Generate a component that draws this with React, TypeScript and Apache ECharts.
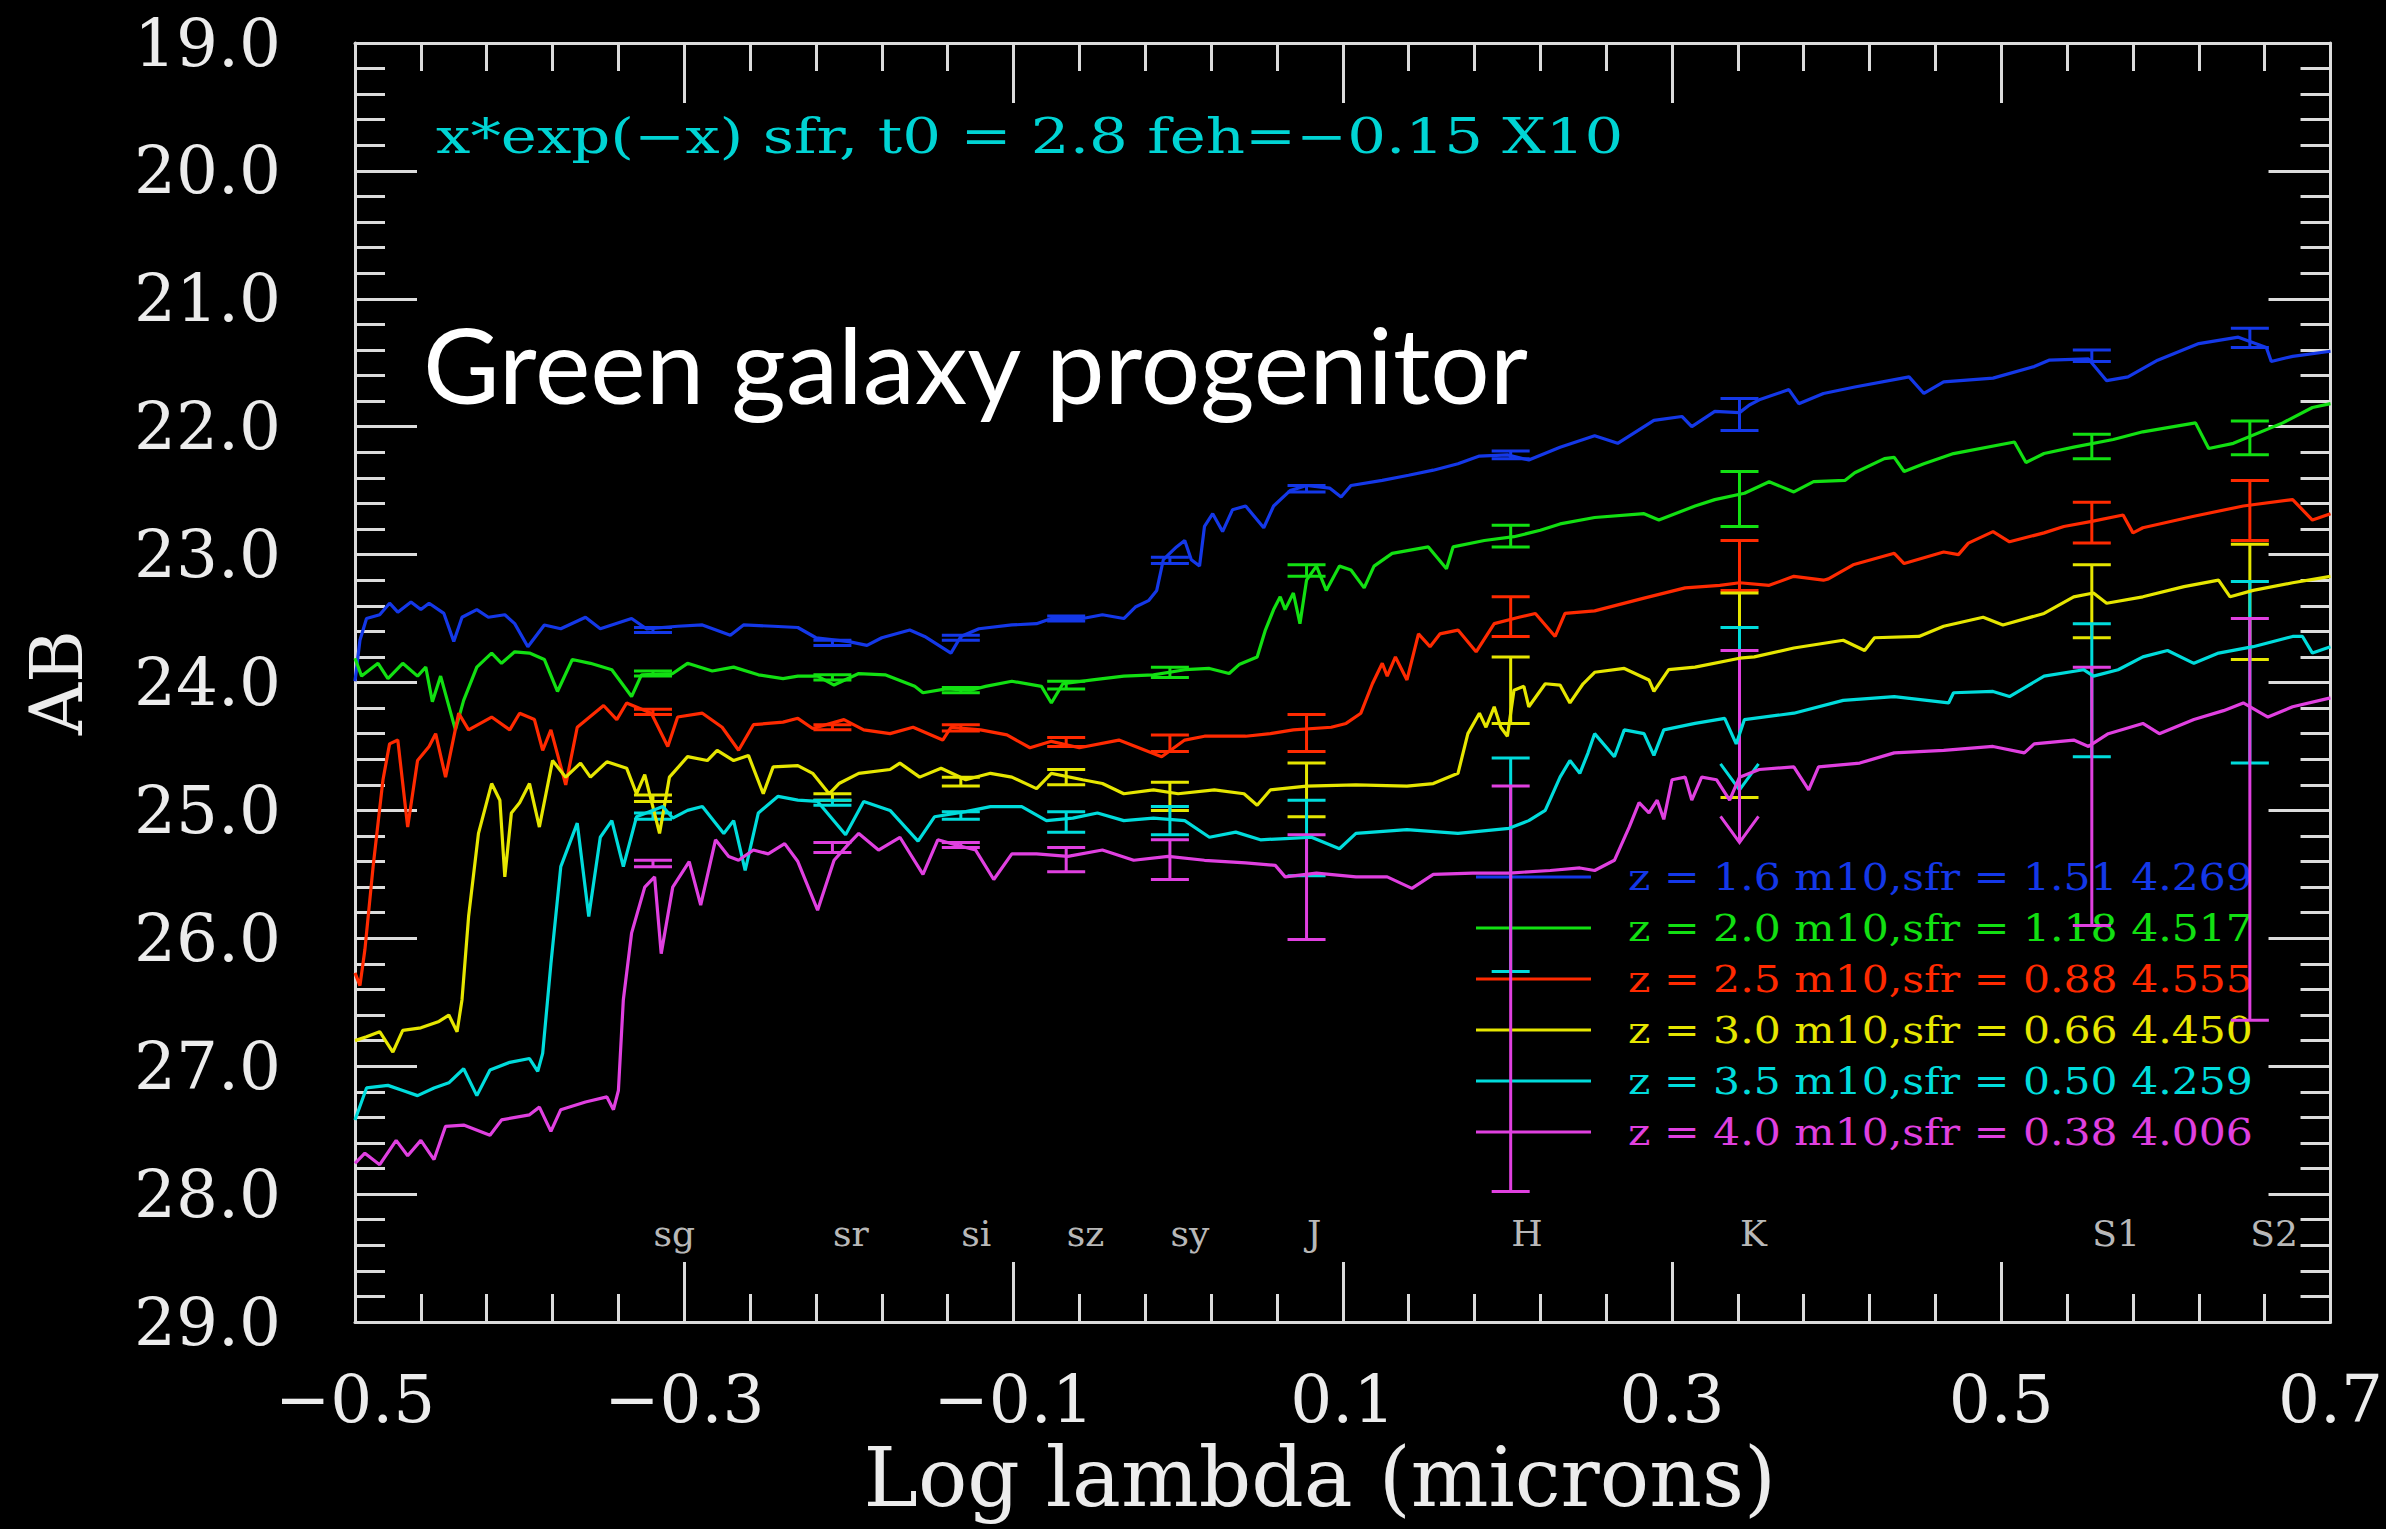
import React, { useEffect, useRef } from 'react';
import * as echarts from 'echarts';

const WIDTH = 2386;
const HEIGHT = 1529;

// Axis ranges (log10 wavelength in microns, AB magnitude)
const X_MIN = -0.5;
const X_MAX = 0.7;
const X_STEP = 0.2;
const Y_MIN = 19;
const Y_MAX = 29;
const Y_STEP = 1;

// Photometric bands and their log10 central wavelengths
const BANDS = ['sg', 'sr', 'si', 'sz', 'sy', 'J', 'H', 'K', 'S1', 'S2'];
const BAND_LOG_LAMBDA = [-0.319, -0.21, -0.132, -0.068, -0.005, 0.078, 0.202, 0.341, 0.555, 0.651];
const BAND_LABEL_AB = 28.31;

// Model parameters for each redshift
const REDSHIFT = ['1.6', '2.0', '2.5', '3.0', '3.5', '4.0'];
const M10 = ['1.51', '1.18', '0.88', '0.66', '0.50', '0.38'];
const SFR = ['4.269', '4.517', '4.555', '4.450', '4.259', '4.006'];
const COLORS = ['#1438e8', '#12e012', '#ff2a00', '#e6e600', '#00dcdc', '#e040e0'];

const TITLE = 'x*exp(\u2212x) sfr, t0 = 2.8 feh=\u22120.15 X10';
const HEADLINE = 'Green galaxy progenitor';

// Spectra: [log lambda, AB mag]
const SPEC_Z16: [number, number][] = [
  [-0.5, 23.99], [-0.497, 23.67], [-0.493, 23.5], [-0.485, 23.47], [-0.479, 23.38], [-0.474, 23.45],
  [-0.466, 23.37], [-0.46, 23.43], [-0.455, 23.38], [-0.446, 23.46], [-0.44, 23.68], [-0.435, 23.49],
  [-0.426, 23.43], [-0.419, 23.49], [-0.409, 23.47], [-0.403, 23.54], [-0.395, 23.72], [-0.385, 23.55],
  [-0.375, 23.58], [-0.36, 23.49], [-0.351, 23.58], [-0.332, 23.5], [-0.323, 23.58], [-0.304, 23.56],
  [-0.289, 23.55], [-0.272, 23.63], [-0.264, 23.55], [-0.246, 23.56], [-0.231, 23.57], [-0.22, 23.65],
  [-0.2, 23.68], [-0.189, 23.71], [-0.18, 23.65], [-0.163, 23.59], [-0.154, 23.64], [-0.138, 23.77],
  [-0.132, 23.64], [-0.121, 23.58], [-0.101, 23.55], [-0.086, 23.54], [-0.077, 23.5], [-0.058, 23.5],
  [-0.046, 23.47], [-0.033, 23.5], [-0.026, 23.41], [-0.018, 23.36], [-0.013, 23.28], [-0.009, 23.04],
  [-0.001, 22.94], [0.004, 22.89], [0.008, 23.04], [0.013, 23.09], [0.016, 22.78], [0.021, 22.68],
  [0.027, 22.82], [0.033, 22.65], [0.041, 22.62], [0.052, 22.79], [0.058, 22.62], [0.068, 22.5],
  [0.078, 22.46], [0.092, 22.48], [0.099, 22.55], [0.105, 22.46], [0.124, 22.42], [0.14, 22.38],
  [0.155, 22.34], [0.17, 22.29], [0.183, 22.23], [0.2, 22.22], [0.213, 22.26], [0.232, 22.16],
  [0.253, 22.07], [0.267, 22.13], [0.289, 21.95], [0.306, 21.92], [0.312, 22.0], [0.326, 21.88],
  [0.341, 21.89], [0.347, 21.83], [0.353, 21.79], [0.371, 21.71], [0.377, 21.82], [0.392, 21.74],
  [0.411, 21.69], [0.444, 21.61], [0.453, 21.74], [0.465, 21.65], [0.495, 21.62], [0.52, 21.53],
  [0.529, 21.48], [0.553, 21.47], [0.564, 21.64], [0.577, 21.61], [0.595, 21.48], [0.62, 21.35],
  [0.644, 21.3], [0.661, 21.38], [0.664, 21.49], [0.677, 21.45], [0.7, 21.41],
];

const SPEC_Z20: [number, number][] = [
  [-0.5, 23.81], [-0.496, 23.95], [-0.486, 23.85], [-0.48, 23.97], [-0.471, 23.85], [-0.462, 23.95],
  [-0.457, 23.88], [-0.453, 24.15], [-0.448, 23.95], [-0.439, 24.37], [-0.434, 24.14], [-0.426, 23.88],
  [-0.417, 23.77], [-0.411, 23.85], [-0.403, 23.76], [-0.394, 23.77], [-0.385, 23.82], [-0.377, 24.07],
  [-0.368, 23.82], [-0.357, 23.85], [-0.344, 23.9], [-0.332, 24.11], [-0.326, 23.94], [-0.307, 23.93],
  [-0.298, 23.85], [-0.283, 23.91], [-0.27, 23.88], [-0.255, 23.94], [-0.24, 23.97], [-0.231, 23.95],
  [-0.219, 23.95], [-0.209, 24.02], [-0.194, 23.93], [-0.178, 23.94], [-0.16, 24.03], [-0.155, 24.08],
  [-0.141, 24.05], [-0.126, 24.06], [-0.117, 24.03], [-0.101, 23.99], [-0.083, 24.03], [-0.077, 24.16],
  [-0.07, 24.01], [-0.052, 23.98], [-0.033, 23.95], [-0.015, 23.94], [0.004, 23.9], [0.019, 23.89],
  [0.031, 23.93], [0.037, 23.86], [0.048, 23.8], [0.053, 23.59], [0.058, 23.43], [0.062, 23.33],
  [0.065, 23.43], [0.07, 23.3], [0.074, 23.54], [0.078, 23.2], [0.084, 23.09], [0.09, 23.28],
  [0.098, 23.09], [0.105, 23.12], [0.113, 23.26], [0.119, 23.09], [0.13, 22.99], [0.152, 22.94],
  [0.163, 23.11], [0.167, 22.94], [0.186, 22.89], [0.204, 22.86], [0.22, 22.81], [0.232, 22.76],
  [0.253, 22.71], [0.283, 22.68], [0.292, 22.73], [0.314, 22.62], [0.326, 22.57], [0.344, 22.52],
  [0.359, 22.43], [0.374, 22.51], [0.386, 22.43], [0.405, 22.42], [0.411, 22.36], [0.429, 22.25],
  [0.435, 22.24], [0.441, 22.35], [0.453, 22.29], [0.471, 22.21], [0.508, 22.12], [0.515, 22.28],
  [0.526, 22.21], [0.544, 22.16], [0.568, 22.1], [0.586, 22.04], [0.618, 21.97], [0.626, 22.17],
  [0.641, 22.13], [0.671, 21.97], [0.689, 21.85], [0.7, 21.82],
];

const SPEC_Z25: [number, number][] = [
  [-0.5, 26.27], [-0.497, 26.37], [-0.494, 26.09], [-0.489, 25.44], [-0.483, 24.76], [-0.479, 24.48],
  [-0.474, 24.45], [-0.468, 25.13], [-0.462, 24.61], [-0.455, 24.5], [-0.451, 24.4], [-0.445, 24.74],
  [-0.437, 24.24], [-0.431, 24.37], [-0.417, 24.27], [-0.406, 24.37], [-0.4, 24.24], [-0.391, 24.29],
  [-0.386, 24.53], [-0.381, 24.37], [-0.372, 24.8], [-0.365, 24.35], [-0.349, 24.18], [-0.341, 24.29],
  [-0.335, 24.16], [-0.32, 24.24], [-0.31, 24.5], [-0.304, 24.27], [-0.289, 24.24], [-0.277, 24.35],
  [-0.267, 24.53], [-0.258, 24.33], [-0.24, 24.31], [-0.231, 24.28], [-0.222, 24.36], [-0.203, 24.29],
  [-0.191, 24.37], [-0.175, 24.4], [-0.161, 24.35], [-0.143, 24.45], [-0.138, 24.35], [-0.12, 24.37],
  [-0.104, 24.41], [-0.09, 24.51], [-0.077, 24.46], [-0.06, 24.51], [-0.036, 24.45], [-0.01, 24.58],
  [0.004, 24.45], [0.016, 24.42], [0.041, 24.42], [0.056, 24.4], [0.07, 24.37], [0.093, 24.35],
  [0.102, 24.32], [0.111, 24.24], [0.118, 24.01], [0.124, 23.85], [0.127, 23.95], [0.132, 23.8],
  [0.139, 23.98], [0.146, 23.62], [0.153, 23.72], [0.159, 23.62], [0.17, 23.59], [0.181, 23.76],
  [0.192, 23.54], [0.207, 23.49], [0.217, 23.46], [0.229, 23.64], [0.235, 23.46], [0.253, 23.44],
  [0.283, 23.34], [0.308, 23.26], [0.329, 23.24], [0.341, 23.22], [0.359, 23.24], [0.374, 23.17],
  [0.392, 23.2], [0.395, 23.19], [0.41, 23.08], [0.435, 22.99], [0.441, 23.07], [0.465, 22.98],
  [0.474, 23.0], [0.48, 22.91], [0.495, 22.82], [0.505, 22.9], [0.526, 22.83], [0.538, 22.78],
  [0.555, 22.74], [0.574, 22.69], [0.58, 22.83], [0.586, 22.79], [0.617, 22.7], [0.647, 22.62],
  [0.677, 22.57], [0.689, 22.73], [0.7, 22.68],
];

const SPEC_Z30: [number, number][] = [
  [-0.5, 26.8], [-0.493, 26.77], [-0.485, 26.73], [-0.477, 26.89], [-0.471, 26.72], [-0.46, 26.7],
  [-0.449, 26.65], [-0.443, 26.6], [-0.438, 26.73], [-0.435, 26.48], [-0.431, 25.83], [-0.425, 25.18],
  [-0.417, 24.79], [-0.412, 24.92], [-0.409, 25.52], [-0.405, 25.02], [-0.4, 24.94], [-0.394, 24.79],
  [-0.388, 25.13], [-0.38, 24.61], [-0.372, 24.74], [-0.363, 24.63], [-0.357, 24.74], [-0.347, 24.62],
  [-0.335, 24.67], [-0.329, 24.87], [-0.324, 24.72], [-0.315, 25.18], [-0.309, 24.74], [-0.298, 24.58],
  [-0.286, 24.61], [-0.28, 24.53], [-0.27, 24.61], [-0.261, 24.57], [-0.252, 24.87], [-0.246, 24.66],
  [-0.231, 24.65], [-0.222, 24.71], [-0.212, 24.87], [-0.206, 24.79], [-0.194, 24.71], [-0.175, 24.68],
  [-0.169, 24.63], [-0.157, 24.74], [-0.144, 24.67], [-0.129, 24.76], [-0.114, 24.71], [-0.101, 24.74],
  [-0.086, 24.83], [-0.077, 24.71], [-0.058, 24.76], [-0.046, 24.79], [-0.033, 24.87], [-0.015, 24.84],
  [0.0, 24.87], [0.022, 24.84], [0.04, 24.87], [0.048, 24.96], [0.056, 24.84], [0.078, 24.81],
  [0.108, 24.8], [0.139, 24.81], [0.155, 24.79], [0.17, 24.71], [0.176, 24.4], [0.183, 24.24],
  [0.187, 24.35], [0.192, 24.19], [0.196, 24.35], [0.2, 24.42], [0.204, 24.06], [0.21, 24.03],
  [0.213, 24.19], [0.223, 24.01], [0.232, 24.02], [0.238, 24.16], [0.246, 24.01], [0.253, 23.92],
  [0.271, 23.89], [0.286, 23.98], [0.289, 24.07], [0.298, 23.9], [0.314, 23.88], [0.341, 23.81],
  [0.35, 23.8], [0.374, 23.73], [0.404, 23.67], [0.417, 23.75], [0.423, 23.65], [0.45, 23.64],
  [0.465, 23.56], [0.489, 23.49], [0.501, 23.55], [0.526, 23.46], [0.544, 23.33], [0.556, 23.3],
  [0.564, 23.38], [0.586, 23.33], [0.611, 23.25], [0.632, 23.2], [0.639, 23.33], [0.653, 23.28],
  [0.677, 23.22], [0.7, 23.17],
];

const SPEC_Z35: [number, number][] = [
  [-0.5, 27.42], [-0.493, 27.17], [-0.48, 27.15], [-0.471, 27.19], [-0.462, 27.23], [-0.452, 27.17],
  [-0.443, 27.13], [-0.434, 27.02], [-0.426, 27.23], [-0.418, 27.03], [-0.406, 26.97], [-0.394, 26.94],
  [-0.389, 27.04], [-0.386, 26.9], [-0.383, 26.48], [-0.381, 26.2], [-0.375, 25.44], [-0.365, 25.1],
  [-0.358, 25.83], [-0.351, 25.21], [-0.344, 25.08], [-0.337, 25.44], [-0.329, 25.05], [-0.313, 24.97],
  [-0.307, 25.06], [-0.298, 25.0], [-0.289, 24.97], [-0.276, 25.18], [-0.27, 25.08], [-0.263, 25.47],
  [-0.255, 25.02], [-0.243, 24.89], [-0.231, 24.92], [-0.219, 24.93], [-0.202, 25.19], [-0.191, 24.93],
  [-0.175, 25.0], [-0.158, 25.24], [-0.148, 25.05], [-0.129, 25.01], [-0.114, 24.97], [-0.095, 24.97],
  [-0.08, 25.08], [-0.064, 25.06], [-0.049, 25.02], [-0.033, 25.08], [-0.015, 25.06], [0.004, 25.08],
  [0.019, 25.21], [0.035, 25.17], [0.05, 25.23], [0.065, 25.22], [0.081, 25.21], [0.098, 25.3],
  [0.108, 25.18], [0.139, 25.15], [0.17, 25.18], [0.201, 25.14], [0.213, 25.08], [0.223, 25.0],
  [0.232, 24.74], [0.238, 24.61], [0.244, 24.71], [0.249, 24.55], [0.253, 24.4], [0.265, 24.58],
  [0.271, 24.37], [0.283, 24.4], [0.289, 24.57], [0.295, 24.37], [0.314, 24.32], [0.332, 24.28],
  [0.339, 24.48], [0.344, 24.29], [0.374, 24.24], [0.404, 24.14], [0.435, 24.11], [0.468, 24.16],
  [0.471, 24.08], [0.495, 24.07], [0.505, 24.11], [0.526, 23.95], [0.55, 23.9], [0.556, 23.95],
  [0.571, 23.9], [0.586, 23.8], [0.601, 23.75], [0.617, 23.85], [0.632, 23.77], [0.653, 23.72],
  [0.677, 23.64], [0.683, 23.64], [0.689, 23.77], [0.7, 23.72],
];

const SPEC_Z40: [number, number][] = [
  [-0.5, 27.76], [-0.494, 27.68], [-0.485, 27.77], [-0.475, 27.58], [-0.468, 27.7], [-0.46, 27.58],
  [-0.452, 27.73], [-0.445, 27.47], [-0.434, 27.46], [-0.418, 27.54], [-0.411, 27.42], [-0.394, 27.38],
  [-0.388, 27.32], [-0.381, 27.51], [-0.375, 27.34], [-0.36, 27.28], [-0.347, 27.24], [-0.343, 27.34],
  [-0.34, 27.19], [-0.337, 26.48], [-0.332, 25.96], [-0.324, 25.6], [-0.318, 25.52], [-0.314, 26.12],
  [-0.307, 25.6], [-0.297, 25.4], [-0.29, 25.74], [-0.281, 25.23], [-0.273, 25.36], [-0.267, 25.39],
  [-0.258, 25.31], [-0.249, 25.34], [-0.239, 25.26], [-0.231, 25.4], [-0.219, 25.78], [-0.209, 25.39],
  [-0.2, 25.26], [-0.194, 25.18], [-0.182, 25.31], [-0.169, 25.21], [-0.155, 25.5], [-0.146, 25.23],
  [-0.132, 25.28], [-0.123, 25.31], [-0.112, 25.54], [-0.101, 25.34], [-0.086, 25.34], [-0.067, 25.36],
  [-0.046, 25.31], [-0.027, 25.39], [-0.006, 25.36], [0.016, 25.39], [0.041, 25.41], [0.059, 25.43],
  [0.065, 25.52], [0.084, 25.49], [0.108, 25.52], [0.127, 25.52], [0.142, 25.61], [0.155, 25.5],
  [0.179, 25.49], [0.201, 25.49], [0.226, 25.47], [0.244, 25.45], [0.253, 25.47], [0.265, 25.39],
  [0.274, 25.13], [0.28, 24.94], [0.286, 25.02], [0.291, 24.92], [0.295, 25.07], [0.3, 24.76],
  [0.308, 24.74], [0.312, 24.92], [0.318, 24.74], [0.327, 24.76], [0.335, 24.92], [0.341, 24.74],
  [0.353, 24.68], [0.374, 24.66], [0.383, 24.84], [0.389, 24.66], [0.414, 24.63], [0.435, 24.55],
  [0.465, 24.53], [0.495, 24.5], [0.514, 24.55], [0.52, 24.48], [0.544, 24.45], [0.553, 24.5],
  [0.565, 24.4], [0.586, 24.32], [0.596, 24.4], [0.617, 24.29], [0.635, 24.22], [0.647, 24.16],
  [0.662, 24.27], [0.677, 24.19], [0.7, 24.12],
];

// Band photometry error bars: [bright end, faint end] per band
const ERR_Z16: [number, number][] = [
  [23.57, 23.61], [23.67, 23.71], [23.63, 23.67], [23.48, 23.52], [23.02, 23.07],
  [22.46, 22.51], [22.19, 22.25], [21.78, 22.03], [21.4, 21.49], [21.23, 21.38],
];
const ERR_Z20: [number, number][] = [
  [23.91, 23.95], [23.94, 23.98], [24.04, 24.08], [23.99, 24.05], [23.88, 23.96],
  [23.08, 23.17], [22.77, 22.94], [22.35, 22.78], [22.06, 22.25], [21.955, 22.22],
];
const ERR_Z25: [number, number][] = [
  [24.21, 24.25], [24.33, 24.37], [24.33, 24.38], [24.43, 24.5], [24.41, 24.54],
  [24.25, 24.54], [23.33, 23.64], [22.89, 23.28], [22.59, 22.91], [22.42, 22.89],
];
const ERR_Z30: [number, number][] = [
  [24.88, 24.93], [24.87, 24.92], [24.74, 24.81], [24.68, 24.8], [24.78, 25.0],
  [24.63, 25.05], [23.8, 24.32], [23.3, 24.9], [23.08, 23.65], [22.92, 23.82],
];
const ERR_Z35: [number, number][] = [
  [25.02, 25.07], [24.92, 24.96], [25.01, 25.07], [25.01, 25.17], [24.97, 25.19],
  [24.92, 25.51], [24.59, 26.26], [23.57, 24.84], [23.54, 24.58], [23.21, 24.63],
];
const ERR_Z40: [number, number][] = [
  [25.39, 25.44], [25.25, 25.33], [25.25, 25.29], [25.29, 25.48], [25.23, 25.54],
  [25.19, 26.01], [24.81, 27.98], [23.75, 25.25], [23.88, 25.9], [23.5, 26.64],
];
// Bands where the photometry is only an upper limit (drawn as an arrow)
const LIMITS_Z16: string[] = [];
const LIMITS_Z20: string[] = [];
const LIMITS_Z25: string[] = [];
const LIMITS_Z30: string[] = [];
const LIMITS_Z35: string[] = ['K'];
const LIMITS_Z40: string[] = ['K'];

const SPECTRA = [SPEC_Z16, SPEC_Z20, SPEC_Z25, SPEC_Z30, SPEC_Z35, SPEC_Z40];
const ERRORS = [ERR_Z16, ERR_Z20, ERR_Z25, ERR_Z30, ERR_Z35, ERR_Z40];
const LIMITS = [LIMITS_Z16, LIMITS_Z20, LIMITS_Z25, LIMITS_Z30, LIMITS_Z35, LIMITS_Z40];

const AXIS_COLOR = '#dcdcdc';
const TEXT_COLOR = '#ececec';
const TITLE_COLOR = '#00d4d4';
const SERIF = '"DejaVu Serif", serif';
const LINE_W = 3.2;

function errorBarRenderer(color: string) {
  return (_params: any, api: any) => {
    const x = api.value(0);
    const top = api.coord([x, api.value(1)]);
    const bot = api.coord([x, api.value(2)]);
    const isLimit = api.value(3) === 1;
    const half = 19;
    const style = { stroke: color, lineWidth: 3, fill: null };
    const children: any[] = [
      { type: 'line', shape: { x1: top[0], y1: top[1], x2: bot[0], y2: bot[1] }, style },
      { type: 'line', shape: { x1: top[0] - half, y1: top[1], x2: top[0] + half, y2: top[1] }, style },
    ];
    if (isLimit) {
      children.push({
        type: 'polyline',
        shape: { points: [[bot[0] - half, bot[1] - 26], [bot[0], bot[1]], [bot[0] + half, bot[1] - 26]] },
        style,
      });
    } else {
      children.push({ type: 'line', shape: { x1: bot[0] - half, y1: bot[1], x2: bot[0] + half, y2: bot[1] }, style });
    }
    return { type: 'group', children };
  };
}

const fmtX = (v: number) => {
  const s = Math.abs(v).toFixed(1);
  return v < -1e-9 ? '\u2212' + s : s;
};

function buildOption(): any {
  const series: any[] = [];
  SPECTRA.forEach((spec, i) => {
    series.push({
      type: 'line',
      name: 'z = ' + REDSHIFT[i],
      data: spec,
      showSymbol: false,
      symbol: 'none',
      silent: true,
      lineStyle: { color: COLORS[i], width: LINE_W },
      itemStyle: { color: COLORS[i] },
    });
    series.push({
      type: 'custom',
      name: 'phot z = ' + REDSHIFT[i],
      silent: true,
      renderItem: errorBarRenderer(COLORS[i]),
      encode: { x: 0, y: [1, 2] },
      data: BAND_LOG_LAMBDA.map((x, k) => [
        x,
        ERRORS[i][k][0],
        ERRORS[i][k][1],
        LIMITS[i].includes(BANDS[k]) ? 1 : 0,
      ]),
    });
  });
  series.push({
    type: 'scatter',
    name: 'bands',
    silent: true,
    symbolSize: 1,
    itemStyle: { color: 'rgba(0,0,0,0)' },
    data: BANDS.map((b, k) => ({ name: b, value: [BAND_LOG_LAMBDA[k], BAND_LABEL_AB] })),
    label: {
      show: true,
      position: 'right',
      distance: 0,
      formatter: '{b}',
      color: TEXT_COLOR,
      fontFamily: SERIF,
      fontSize: 36,
    },
  });

  const tickLine = { color: AXIS_COLOR, width: 3 };
  const xBase = {
    type: 'value',
    min: X_MIN,
    max: X_MAX,
    interval: X_STEP,
    axisLine: { show: true, onZero: false, lineStyle: tickLine },
    axisTick: { show: true, inside: true, length: 60, lineStyle: tickLine },
    minorTick: { show: true, splitNumber: 5, length: 28, lineStyle: tickLine },
    splitLine: { show: false },
  };
  const yBase = {
    type: 'value',
    min: Y_MIN,
    max: Y_MAX,
    interval: Y_STEP,
    inverse: true,
    axisLine: { show: true, onZero: false, lineStyle: tickLine },
    axisTick: { show: true, inside: true, length: 62, lineStyle: tickLine },
    minorTick: { show: true, splitNumber: 5, length: 30, lineStyle: tickLine },
    splitLine: { show: false },
  };

  const legendRows: any[] = [];
  REDSHIFT.forEach((z, i) => {
    const y = 877 + i * 51;
    legendRows.push({
      type: 'line',
      silent: true,
      shape: { x1: 1476, y1: y, x2: 1591, y2: y },
      style: { stroke: COLORS[i], lineWidth: LINE_W },
    });
    legendRows.push({
      type: 'text',
      silent: true,
      x: 1628,
      y,
      scaleX: 1.12,
      style: {
        text: `z = ${z} m10,sfr = ${M10[i]} ${SFR[i]}`,
        fill: COLORS[i],
        font: `38px ${SERIF}`,
        verticalAlign: 'middle',
        align: 'left',
      },
    });
  });

  return {
    animation: false,
    backgroundColor: '#000',
    grid: { left: 355, top: 43, width: 1984, height: 1279 },
    xAxis: [
      {
        ...xBase,
        position: 'bottom',
        axisLabel: {
          show: true,
          formatter: fmtX,
          color: TEXT_COLOR,
          fontFamily: SERIF,
          fontSize: 66,
          margin: 44,
          showMinLabel: true,
          showMaxLabel: true,
        },
        name: 'Log lambda (microns)',
        nameLocation: 'middle',
        nameGap: 110,
        nameTextStyle: { color: TEXT_COLOR, fontFamily: SERIF, fontSize: 82, padding: [0, 46, 0, 0] },
      },
      { ...xBase, position: 'top', axisLabel: { show: false } },
    ],
    yAxis: [
      {
        ...yBase,
        position: 'left',
        axisLabel: {
          show: true,
          formatter: (v: number) => v.toFixed(1),
          color: TEXT_COLOR,
          fontFamily: SERIF,
          fontSize: 66,
          margin: 74,
          showMinLabel: true,
          showMaxLabel: true,
        },
        name: 'AB',
        nameLocation: 'middle',
        nameRotate: 90,
        nameGap: 262,
        nameTextStyle: { color: TEXT_COLOR, fontFamily: SERIF, fontSize: 72 },
      },
      { ...yBase, position: 'right', axisLabel: { show: false } },
    ],
    graphic: [
      {
        type: 'text',
        silent: true,
        x: 436,
        y: 136,
        scaleX: 1.27,
        style: { text: TITLE, fill: TITLE_COLOR, font: `48px ${SERIF}`, verticalAlign: 'middle', align: 'left' },
      },
      {
        type: 'text',
        silent: true,
        x: 423,
        y: 363,
        style: { text: HEADLINE, fill: '#ffffff', font: '105px Lato, "Open Sans", sans-serif', verticalAlign: 'middle', align: 'left' },
      },
      ...legendRows,
    ],
    series,
  };
}

export default function App() {
  const ref = useRef<HTMLDivElement>(null);
  useEffect(() => {
    document.body.style.margin = '0';
    document.body.style.background = '#000';
    if (!ref.current) return;
    const chart = echarts.init(ref.current, undefined, { renderer: 'svg' });
    chart.setOption(buildOption());
    return () => chart.dispose();
  }, []);
  return (
    <div
      ref={ref}
      style={{ position: 'fixed', left: 0, top: 0, width: WIDTH, height: HEIGHT, background: '#000' }}
    />
  );
}
